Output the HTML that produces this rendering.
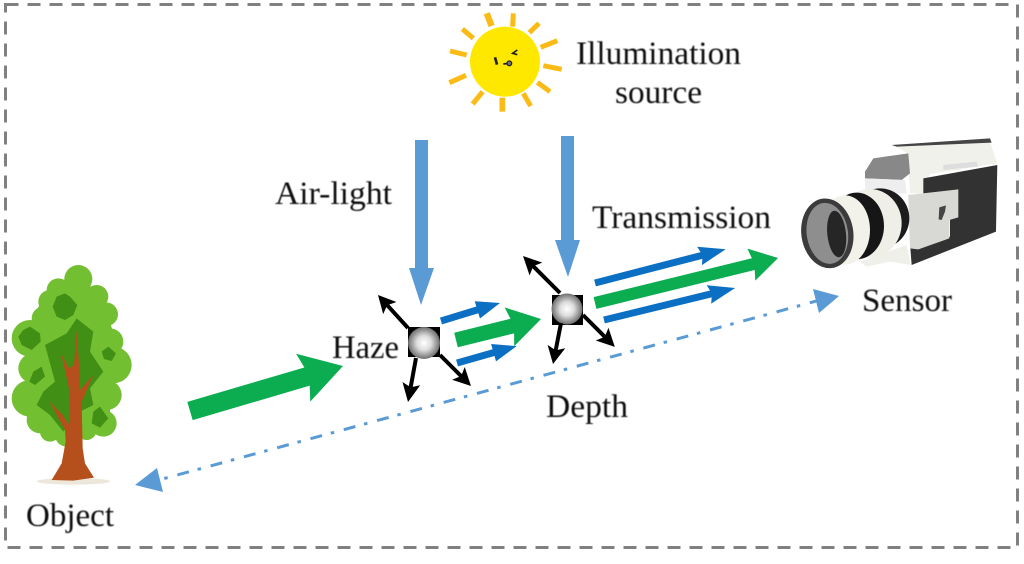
<!DOCTYPE html>
<html>
<head>
<meta charset="utf-8">
<style>
html,body{margin:0;padding:0;background:#fff;width:1024px;height:564px;overflow:hidden}
svg{display:block}
text{font-family:"Liberation Serif",serif;font-size:33px;fill:#111}
</style>
</head>
<body>
<svg width="1024" height="564" viewBox="0 0 1024 564" xmlns="http://www.w3.org/2000/svg">
<defs>
<radialGradient id="sp" cx="50%" cy="50%" r="50%">
<stop offset="0" stop-color="#fff"/><stop offset=".45" stop-color="#ddd"/><stop offset="1" stop-color="#6e6e6e"/>
</radialGradient>
<filter id="b" x="-5%" y="-5%" width="110%" height="110%"><feGaussianBlur stdDeviation="0.8"/></filter>
<filter id="b2" x="-5%" y="-5%" width="110%" height="110%"><feGaussianBlur stdDeviation="0.45"/></filter>
</defs>
<rect width="1024" height="564" fill="#fff"/>
<rect x="5.5" y="4.5" width="1012" height="543" fill="none" stroke="#808080" stroke-width="3" stroke-dasharray="13 9"/>

<!-- Sun -->
<g transform="translate(440,0) scale(.3333)" filter="url(#b)">
<g stroke="#fbbb16" stroke-width="15" stroke-linecap="butt">
<line x1="140" y1="40" x2="155" y2="78" stroke-width="19"/>
<line x1="220" y1="40" x2="218" y2="80"/>
<line x1="297" y1="70" x2="268" y2="98"/>
<line x1="352" y1="122" x2="302" y2="142"/>
<line x1="365" y1="208" x2="310" y2="197"/>
<line x1="330" y1="275" x2="292" y2="247"/>
<line x1="272" y1="318" x2="250" y2="280"/>
<line x1="187" y1="335" x2="187" y2="293" stroke-width="17"/>
<line x1="128" y1="275" x2="98" y2="312"/>
<line x1="78" y1="226" x2="28" y2="248"/>
<line x1="80" y1="165" x2="30" y2="153"/>
<line x1="100" y1="115" x2="67" y2="87"/>
</g>
<circle cx="195" cy="185" r="105" fill="#ffe800"/>
<line x1="165" y1="172" x2="171" y2="194" stroke="#222" stroke-width="8"/>
<path d="M190 192 L206 190" stroke="#222" stroke-width="5" fill="none"/>
<circle cx="208" cy="190" r="7" fill="#777" stroke="#222" stroke-width="4"/>
<path d="M232 150 L218 160 L232 164" stroke="#222" stroke-width="5" fill="none"/>
</g>

<!-- Tree -->
<g transform="translate(0,255) scale(.3333)" filter="url(#b)">
<ellipse cx="220" cy="679" rx="110" ry="10" fill="#ece7da"/>
<g fill="#72bf30">
<circle cx="235" cy="72" r="42"/><circle cx="175" cy="105" r="35"/><circle cx="150" cy="140" r="35"/>
<circle cx="290" cy="125" r="35"/><circle cx="318" cy="178" r="36"/><circle cx="130" cy="190" r="35"/>
<circle cx="90" cy="250" r="55"/><circle cx="330" cy="260" r="40"/><circle cx="340" cy="330" r="55"/>
<circle cx="100" cy="340" r="45"/><circle cx="90" cy="430" r="55"/><circle cx="320" cy="420" r="45"/>
<circle cx="120" cy="495" r="40"/><circle cx="150" cy="530" r="30"/><circle cx="310" cy="505" r="40"/>
<circle cx="260" cy="525" r="30"/><circle cx="200" cy="540" r="35"/>
<ellipse cx="215" cy="310" rx="130" ry="240"/>
<rect x="100" y="300" width="230" height="200"/>
</g>
<g fill="#438f14">
<polygon points="230,190 280,230 270,290 310,350 270,400 280,450 240,470 190,530 150,480 110,450 130,410 165,380 135,270 200,235"/>
<polygon points="195,115 210,125 232,150 220,180 195,195 170,185 158,155 170,125"/>
<polygon points="90,215 120,235 122,260 95,285 65,270 55,245 70,225"/>
<polygon points="325,275 348,295 335,318 312,312 305,290"/>
<polygon points="125,335 135,365 105,390 88,380 100,350"/>
<polygon points="300,455 325,490 300,518 275,505 280,470"/>
</g>
<polygon fill="#b5501a" points="155,675 185,625 197,560 195,525 148,438 188,480 207,508 207,400 183,295 207,340 222,330 230,225 237,330 240,405 280,360 245,440 248,580 255,625 282,668 220,677"/>
</g>

<!-- Camera -->
<g transform="translate(790,130) scale(.3333)" filter="url(#b)">
<polygon fill="#f1f1ec" points="310,45 600,35 622,100 420,132 405,190 360,190 352,70"/>
<polygon fill="#444" points="305,45 600,25 605,38 320,50"/>
<polygon fill="#888" points="225,125 250,85 355,70 360,130 335,150 225,145"/>
<polygon fill="#eee" points="225,145 345,150 350,190 225,190"/>
<polygon fill="#333" points="400,145 622,105 618,305 365,405 360,340 480,320 480,190 400,190"/>
<polygon fill="#ddd" points="460,105 560,95 565,110 460,120"/>
<polygon fill="#d8d8d4" points="355,195 505,178 505,262 478,270 478,325 385,358 360,355"/>
<polygon fill="#444" points="448,232 468,226 465,245 455,270 446,268"/>
<polygon fill="#f0f0ea" points="210,395 350,345 362,405 300,395 230,410"/>
<!-- lens -->
<ellipse cx="270" cy="265" rx="88" ry="90" fill="#1c1c1c"/>
<ellipse cx="240" cy="280" rx="95" ry="103" fill="#efefe8"/>
<ellipse cx="200" cy="288" rx="82" ry="100" fill="#161616"/>
<ellipse cx="165" cy="300" rx="75" ry="104" fill="#f2f2ea"/>
<ellipse cx="112" cy="310" rx="78" ry="105" fill="#3a3a3a" transform="rotate(-8 112 310)"/>
<ellipse cx="112" cy="310" rx="62" ry="92" fill="#8e8e8e" transform="rotate(-8 112 310)"/>
<ellipse cx="140" cy="312" rx="28" ry="70" fill="#252525" transform="rotate(-6 140 312)"/>
</g>

<!-- Straight down blue arrows -->
<g fill="#5b9bd5">
<polygon points="415,140 428,140 428,268 434,268 421,305 409,268 415,268"/>
<polygon points="561,136 574,136 574,240 580,240 568,277 555,240 561,240"/>
</g>

<!-- Haze and depth particles -->
<rect x="408" y="327" width="32" height="30" fill="#000"/>
<circle cx="424" cy="343" r="16" fill="url(#sp)"/>
<rect x="552" y="295" width="31" height="30" fill="#000"/>
<circle cx="567" cy="309" r="15.5" fill="url(#sp)"/>

<!-- Black arrows -->
<g fill="#000">
<polygon transform="translate(408,328) rotate(227.7)" points="0,-2 30,-2 27,-9 44.6,0 27,9 30,2 0,2"/>
<polygon transform="translate(416,358) rotate(100.3)" points="0,-2 29,-2 26,-9 44.7,0 26,9 29,2 0,2"/>
<polygon transform="translate(440,355) rotate(45)" points="0,-2 29,-2 26,-9 43.8,0 26,9 29,2 0,2"/>
<polygon transform="translate(560,293) rotate(225)" points="0,-2 37,-2 34,-9 52.3,0 34,9 37,2 0,2"/>
<polygon transform="translate(561,323) rotate(101)" points="0,-2 27,-2 24,-9 41.8,0 24,9 27,2 0,2"/>
<polygon transform="translate(583,315) rotate(45)" points="0,-2 30,-2 27,-9 45,0 27,9 30,2 0,2"/>
</g>

<!-- Green arrows -->
<g fill="#0bad50">
<polygon transform="translate(190,411) rotate(-16.4)" points="0,-9.5 122,-9.5 118,-25 159.5,0 118,25 122,9.5 0,9.5"/>
<polygon transform="translate(456,340) rotate(-13.9)" points="0,-7.5 58,-7.5 55,-20 87.6,0 55,20 58,7.5 0,7.5"/>
<polygon transform="translate(595,303) rotate(-13.8)" points="0,-6 163,-6 161,-16.5 188.5,0 161,16.5 163,6 0,6"/>
</g>

<!-- Blue arrows -->
<g fill="#0b6fc4">
<polygon transform="translate(441,321) rotate(-17)" points="0,-3.5 38,-3.5 38,-9 61.7,0 38,9 38,3.5 0,3.5"/>
<polygon transform="translate(457,363) rotate(-15.8)" points="0,-3.5 38,-3.5 38,-9 62,0 38,9 38,3.5 0,3.5"/>
<polygon transform="translate(595,283) rotate(-14.5)" points="0,-3.5 110,-3.5 108,-9.5 135,0 108,9.5 110,3.5 0,3.5"/>
<polygon transform="translate(604,320) rotate(-13.7)" points="0,-3.5 110,-3.5 108,-9.5 135,0 108,9.5 110,3.5 0,3.5"/>
</g>

<!-- Depth line -->
<line x1="164.3" y1="478.5" x2="818" y2="300.6" stroke="#5b9bd5" stroke-width="3" stroke-dasharray="3.5 10 12 9"/>
<polygon fill="#5b9bd5" points="135,485 157,468 163,492"/>
<polygon fill="#5b9bd5" points="839,296 813,289 819,313"/>

<!-- Labels -->
<g filter="url(#b2)">
<text x="576" y="64" textLength="165" lengthAdjust="spacingAndGlyphs">Illumination</text>
<text x="615" y="103" textLength="87" lengthAdjust="spacingAndGlyphs">source</text>
<text x="275" y="204" textLength="117" lengthAdjust="spacingAndGlyphs">Air-light</text>
<text x="592" y="228" textLength="179" lengthAdjust="spacingAndGlyphs">Transmission</text>
<text x="332" y="358" textLength="67" lengthAdjust="spacingAndGlyphs">Haze</text>
<text x="862" y="311" textLength="90" lengthAdjust="spacingAndGlyphs">Sensor</text>
<text x="546" y="417" textLength="82" lengthAdjust="spacingAndGlyphs">Depth</text>
<text x="26" y="526" textLength="88" lengthAdjust="spacingAndGlyphs">Object</text>
</g>
</svg>
</body>
</html>
